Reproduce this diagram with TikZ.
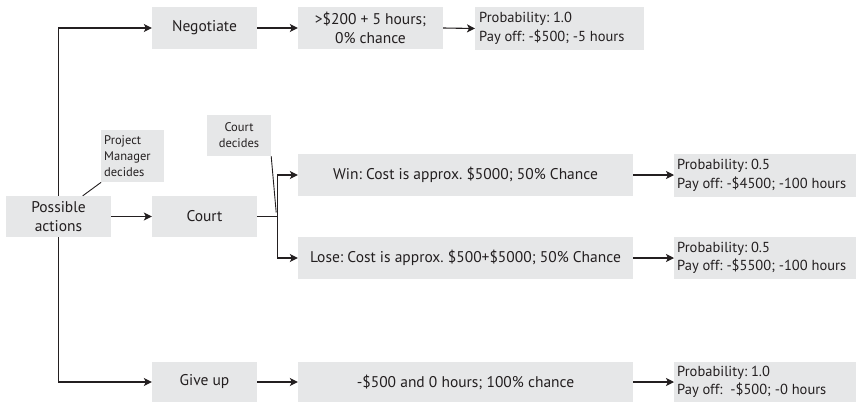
\documentclass[tikz,border=0pt]{standalone}
\usepackage{fontspec}
\setmainfont{PT Sans}
\usetikzlibrary{arrows.meta,calc}
\definecolor{boxgray}{HTML}{E6E7E8}
\definecolor{ink}{HTML}{231F20}

\begin{document}
\frenchspacing
\begin{tikzpicture}[x=1pt,y=-1pt,
  box/.style={fill=boxgray, inner sep=0pt, align=center, text=ink,
    font=\fontsize{15.5}{18.5}\selectfont},
  note/.style={box, font=\fontsize{12.5}{16}\selectfont},
  outcome/.style={box, align=flush left, anchor=west, inner xsep=3pt,
    font=\fontsize{14.5}{18.5}\selectfont},
  link/.style={draw=ink, line width=1.1pt},
  pointer/.style={draw=ink, line width=0.9pt},
  flow/.style={link, -{Stealth[length=8pt,width=8pt,inset=2pt]}}
]
\useasboundingbox (0,0) rectangle (860,402);

% root
\node[box, minimum width=105, minimum height=41] (act) at (58.5,216.5) {Possible\\actions};

% negotiate branch
\node[box, minimum width=105, minimum height=42] (neg) at (204.5,28) {Negotiate};
\node[box, minimum width=145, minimum height=42] (negc) at (370.5,28) {>\$200 + 5 hours;\\0\% chance};
\node[outcome, text width=161, minimum height=43, inner xsep=4pt] (negp) at (475,28.5) {\mbox{Probability: 1.0}\\\mbox{Pay off: -\$500; -5 hours}};

% court branch
\node[box, minimum width=105, minimum height=41] (court) at (204.5,216.5) {Court};
\node[box, minimum width=335, minimum height=42] (win) at (465.5,175) {Win: Cost is approx. \$5000; 50\% Chance};
\node[box, minimum width=335, minimum height=42] (lose) at (465.5,258) {Lose: Cost is approx. \$500+\$5000; 50\% Chance};
\node[outcome, text width=176, minimum height=43] (winp) at (674,175.5) {\mbox{Probability: 0.5}\\\mbox{Pay off: -\$4500; -100 hours}};
\node[outcome, text width=176, minimum height=42] (losep) at (674,258) {\mbox{Probability: 0.5}\\\mbox{Pay off: -\$5500; -100 hours}};

% give-up branch
\node[box, minimum width=105, minimum height=40] (give) at (204.5,382) {Give up};
\node[box, minimum width=335, minimum height=40] (givec) at (465.5,382) {-\$500 and 0 hours; 100\% chance};
\node[outcome, text width=176, minimum height=40] (givep) at (674,382) {\mbox{Probability: 1.0}\\\mbox{Pay off:\ \ -\$500; -0 hours}};

% decision notes
\node[note, align=flush left, anchor=north west, text width=57, inner xsep=3pt, minimum height=52] (pm) at (101,130) {Project\\Manager\\decides};
\node[note, minimum width=64, minimum height=41] (cd) at (239,135.5) {Court\\decides};

% connectors
\draw[flow] (act.north) |- (neg.west);
\draw[flow] (act) -- (court);
\draw[flow] (act.south) |- (give.west);

\draw[flow] (neg) -- (negc);
\draw[flow] (negc.east) -- (negp.west);

\coordinate (fork) at ($(court.east)+(20,0)$);
\draw[link] (court.east) -- (fork);
\draw[flow] (fork) |- (win.west);
\draw[flow] (fork) |- (lose.west);
\draw[flow] (win.east) -- (win.east -| winp.west);
\draw[flow] (lose.east) -- (lose.east -| losep.west);

\draw[flow] (give) -- (givec);
\draw[flow] (givec.east) -- (givep.west);

\draw[pointer] (pm.south west) -- ($(act.north west)!0.73!(act.north east)$);
\draw[pointer] (cd.south east) -- ($(fork)+(-1,-4)$);
\end{tikzpicture}
\end{document}
